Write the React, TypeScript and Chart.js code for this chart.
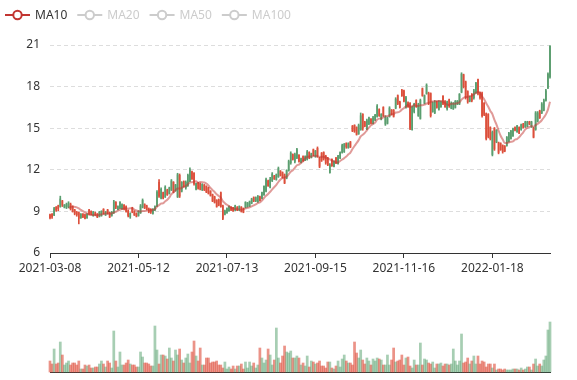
import { useEffect, useRef } from 'react';
import { Chart, registerables } from 'chart.js';

Chart.register(...registerables);

// ---------- data ----------
const TICK_DATES = ['2021-03-08', '2021-05-12', '2021-07-13', '2021-09-15', '2021-11-16', '2022-01-18'];
const TICK_INTERVAL = 43;

const OPEN = [
  8.75, 8.8, 8.75, 9.3, 9.4, 9.35, 9.75, 9.3, 9.3, 9.35,
  9.5, 9.35, 9.1, 8.95, 8.9, 8.55, 8.8, 8.75, 8.55, 9.1,
  9.0, 8.7, 8.9, 8.8, 8.65, 8.7, 9.15, 8.75, 9.1, 8.9,
  8.7, 8.9, 9.65, 9.15, 9.25, 9.2, 9.45, 9.35, 9.05, 8.6,
  9.25, 9.0, 8.85, 8.7, 8.9, 9.3, 9.5, 9.4, 9.2, 9.15,
  8.85, 9.1, 9.4, 11.1, 9.95, 10.35, 10.05, 10.55, 10.3, 10.55,
  11.1, 10.5, 10.05, 11.6, 10.45, 11.15, 10.7, 10.85, 11.2, 11.85,
  11.75, 10.6, 11.05, 11.0, 10.55, 10.9, 10.8, 10.7, 10.45, 10.2,
  10.05, 9.8, 9.85, 10.35, 9.4, 8.8, 8.9, 9.05, 9.3, 9.25,
  9.1, 9.3, 9.1, 9.3, 9.2, 9.3, 9.35, 9.4, 9.6, 10.0,
  9.75, 9.7, 10.05, 9.95, 10.2, 10.45, 11.2, 10.75, 11.2, 11.55,
  11.3, 11.5, 11.9, 11.8, 11.65, 11.4, 11.95, 12.5, 13.1, 12.6,
  12.85, 13.05, 12.55, 12.95, 12.7, 12.75, 13.25, 12.9, 13.45, 12.95,
  13.55, 12.85, 13.2, 13.25, 13.0, 12.85, 11.8, 12.75, 12.25, 12.85,
  12.45, 12.85, 13.25, 13.3, 13.9, 13.6, 14.0, 15.15, 15.2, 15.05,
  14.6, 14.9, 16.0, 15.45, 14.95, 15.3, 15.65, 15.35, 15.6, 15.85,
  16.35, 15.65, 16.5, 15.3, 15.35, 15.85, 16.3, 16.3, 16.45, 17.35,
  16.9, 17.75, 17.7, 16.5, 16.85, 16.8, 14.9, 16.2, 17.0, 15.9,
  15.7, 17.85, 16.8, 17.5, 17.5, 17.5, 16.2, 16.1, 16.9, 16.35,
  16.55, 17.3, 16.95, 16.4, 17.05, 16.45, 16.4, 16.5, 16.75, 16.75,
  17.6, 18.85, 18.35, 17.65, 16.95, 17.45, 17.2, 17.55, 18.5, 17.55,
  17.5, 16.8, 16.05, 16.0, 15.05, 13.1, 15.0, 14.0, 13.95, 13.9,
  13.75, 13.7, 13.75, 14.05, 14.25, 14.45, 15.05, 14.75, 15.05, 14.9,
  15.3, 15.1, 15.15, 15.45, 15.1, 15.0, 14.9, 15.5, 16.25, 16.1,
  16.3, 17.0, 17.9, 18.7,
];
const CLOSE = [
  8.55, 8.6, 9.2, 9.1, 9.2, 9.9, 9.45, 9.45, 9.5, 9.6,
  9.2, 9.0, 8.85, 8.75, 8.5, 8.8, 8.6, 8.5, 8.8, 8.85,
  8.8, 8.95, 8.75, 8.6, 8.95, 9.0, 8.85, 8.95, 8.85, 8.6,
  8.95, 9.7, 9.3, 9.35, 9.65, 9.5, 9.2, 9.0, 8.7, 8.85,
  8.95, 8.75, 8.65, 9.0, 9.4, 9.8, 9.25, 9.15, 8.95, 8.95,
  9.15, 9.35, 10.4, 10.1, 10.6, 9.95, 10.75, 10.2, 10.7, 11.2,
  10.4, 10.9, 11.65, 10.1, 11.1, 10.8, 11.1, 11.6, 12.0, 11.35,
  11.0, 11.0, 10.65, 10.6, 10.95, 10.55, 10.4, 10.3, 10.15, 9.75,
  9.65, 9.35, 9.45, 9.35, 8.5, 9.05, 9.2, 9.35, 9.1, 9.05,
  9.4, 9.1, 9.35, 9.0, 8.95, 9.65, 9.6, 9.7, 9.9, 9.75,
  10.0, 10.1, 9.8, 10.35, 10.8, 11.3, 10.85, 11.3, 11.7, 11.35,
  11.65, 12.1, 11.6, 11.45, 11.05, 11.95, 12.6, 13.2, 12.75, 13.1,
  13.45, 12.6, 12.8, 12.65, 12.95, 13.3, 12.85, 13.15, 13.1, 13.35,
  13.0, 12.25, 12.7, 12.8, 12.5, 12.35, 12.35, 12.3, 12.6, 12.5,
  13.0, 13.25, 13.75, 13.85, 13.65, 13.9, 13.65, 14.8, 14.8, 14.55,
  15.2, 15.9, 15.0, 15.15, 15.55, 15.75, 15.35, 15.75, 15.95, 16.6,
  15.9, 16.0, 15.9, 15.8, 15.7, 16.45, 16.0, 15.85, 17.1, 16.75,
  16.5, 17.35, 16.95, 17.2, 16.55, 15.0, 16.5, 16.75, 16.55, 16.7,
  17.0, 17.35, 17.35, 18.1, 16.8, 15.9, 16.85, 16.9, 16.5, 16.9,
  16.9, 16.75, 16.55, 16.9, 16.6, 16.8, 16.8, 16.95, 16.95, 17.45,
  18.9, 18.0, 17.2, 16.9, 17.25, 17.0, 17.7, 18.25, 17.5, 17.2,
  15.9, 16.0, 14.25, 14.4, 14.25, 14.7, 13.5, 14.85, 13.25, 13.45,
  13.3, 13.35, 14.35, 14.65, 14.8, 14.95, 14.85, 15.15, 14.65, 15.25,
  15.05, 15.45, 15.45, 15.3, 15.45, 14.35, 16.1, 16.1, 15.75, 16.75,
  17.0, 17.7, 18.9, 20.9,
];
const LOW = [
  8.45, 8.5, 8.7, 9.0, 9.05, 9.3, 9.35, 9.25, 9.2, 9.25,
  9.1, 8.95, 8.75, 8.65, 8.1, 8.5, 8.55, 8.45, 8.5, 8.75,
  8.75, 8.65, 8.7, 8.55, 8.6, 8.65, 8.8, 8.7, 8.8, 8.55,
  8.65, 8.85, 9.2, 9.1, 9.2, 9.15, 9.1, 8.95, 8.6, 8.5,
  8.9, 8.7, 8.6, 8.65, 8.85, 9.25, 9.2, 9.1, 8.9, 8.85,
  8.8, 9.05, 9.35, 10.0, 9.9, 9.9, 10.0, 10.15, 10.25, 10.5,
  10.35, 10.45, 10.0, 10.0, 10.4, 10.75, 10.6, 10.8, 11.15, 11.3,
  10.9, 10.55, 10.6, 10.55, 10.5, 10.5, 10.35, 10.25, 10.1, 9.7,
  9.6, 9.3, 9.4, 9.3, 8.4, 8.75, 8.85, 9.0, 9.05, 9.0,
  9.05, 9.05, 9.05, 8.95, 8.9, 9.25, 9.3, 9.35, 9.55, 9.7,
  9.7, 9.65, 9.75, 9.9, 10.15, 10.4, 10.8, 10.7, 11.15, 11.3,
  11.25, 11.45, 11.55, 11.4, 11.0, 11.35, 11.9, 12.4, 12.7, 12.5,
  12.8, 12.55, 12.5, 12.6, 12.65, 12.7, 12.8, 12.85, 13.0, 12.9,
  12.9, 12.15, 12.6, 12.7, 12.4, 12.3, 11.75, 12.25, 12.2, 12.45,
  12.4, 12.8, 13.2, 13.25, 13.55, 13.55, 13.6, 14.75, 14.7, 14.5,
  14.55, 14.85, 14.85, 15.1, 14.9, 15.25, 15.3, 15.3, 15.55, 15.8,
  15.85, 15.6, 15.85, 15.2, 15.3, 15.8, 15.95, 15.8, 16.4, 16.7,
  16.45, 17.3, 16.9, 16.45, 16.5, 14.9, 14.85, 16.1, 16.5, 15.85,
  15.65, 17.3, 16.75, 17.45, 16.7, 15.8, 16.15, 16.05, 16.45, 16.3,
  16.5, 16.7, 16.5, 16.3, 16.5, 16.4, 16.35, 16.45, 16.7, 16.7,
  17.55, 17.9, 17.1, 16.8, 16.9, 16.9, 17.1, 17.5, 17.4, 17.1,
  15.8, 15.9, 14.15, 14.3, 14.15, 13.0, 13.4, 13.95, 13.15, 13.4,
  13.2, 13.3, 13.7, 14.0, 14.2, 14.4, 14.8, 14.7, 14.6, 14.85,
  15.0, 15.05, 15.1, 15.25, 15.05, 14.3, 14.85, 15.45, 15.7, 16.05,
  16.25, 16.95, 17.85, 18.6,
];
const HIGH = [
  8.8, 8.85, 9.3, 9.35, 9.45, 10.1, 9.8, 9.5, 9.6, 9.7,
  9.6, 9.4, 9.15, 9.0, 8.95, 8.85, 8.85, 8.8, 8.85, 9.15,
  9.05, 9.0, 8.95, 8.85, 9.0, 9.05, 9.2, 9.0, 9.15, 8.95,
  9.0, 9.8, 9.7, 9.4, 9.7, 9.55, 9.5, 9.4, 9.1, 8.9,
  9.3, 9.05, 8.9, 9.05, 9.5, 9.9, 9.55, 9.45, 9.25, 9.2,
  9.2, 9.4, 10.5, 11.3, 10.7, 10.4, 10.85, 10.6, 10.75, 11.3,
  11.15, 10.95, 11.75, 11.7, 11.15, 11.2, 11.2, 11.7, 12.15, 11.9,
  11.8, 11.05, 11.1, 11.05, 11.0, 10.95, 10.85, 10.75, 10.5, 10.25,
  10.1, 9.85, 9.9, 10.4, 9.45, 9.1, 9.25, 9.4, 9.35, 9.3,
  9.45, 9.35, 9.4, 9.35, 9.25, 9.7, 9.65, 9.75, 9.95, 10.05,
  10.05, 10.15, 10.1, 10.4, 10.85, 11.4, 11.25, 11.45, 11.8, 11.6,
  11.7, 12.2, 11.95, 11.85, 11.7, 12.0, 12.7, 13.3, 13.15, 13.2,
  13.55, 13.1, 12.85, 13.0, 13.0, 13.4, 13.3, 13.2, 13.5, 13.4,
  13.65, 12.9, 13.25, 13.3, 13.05, 12.9, 12.45, 12.8, 12.65, 12.9,
  13.05, 13.3, 13.85, 13.9, 13.95, 13.95, 14.05, 15.2, 15.25, 15.1,
  15.3, 16.1, 16.05, 15.5, 15.65, 15.8, 15.7, 15.85, 16.0, 16.7,
  16.4, 16.05, 16.55, 15.9, 15.8, 16.55, 16.35, 16.35, 17.2, 17.4,
  16.95, 17.8, 17.75, 17.3, 16.9, 16.85, 16.6, 16.8, 17.05, 16.8,
  17.1, 17.9, 17.4, 18.2, 17.6, 17.55, 16.9, 17.0, 16.95, 17.0,
  16.95, 17.35, 17.0, 16.95, 17.1, 16.9, 16.85, 17.0, 17.0, 17.5,
  19.0, 18.9, 18.4, 17.7, 17.3, 17.5, 17.8, 18.3, 18.55, 17.6,
  17.6, 16.85, 16.1, 16.05, 15.1, 14.8, 15.05, 14.9, 14.0, 13.95,
  13.8, 13.75, 14.4, 14.7, 14.85, 15.0, 15.1, 15.2, 15.1, 15.3,
  15.35, 15.5, 15.5, 15.5, 15.5, 15.05, 16.2, 16.2, 16.3, 16.85,
  17.1, 17.8, 19.0, 20.95,
];
const VOLUME = [
  11, 8, 23, 8, 9, 30, 17, 7, 9, 11,
  7, 9, 9, 7, 11, 3, 3, 7, 6, 7,
  4, 4, 5, 5, 8, 11, 8, 5, 11, 9,
  4, 41, 11, 5, 20, 7, 7, 9, 12, 8,
  7, 7, 5, 5, 20, 15, 9, 9, 8, 6,
  6, 46, 22, 8, 17, 17, 16, 13, 24, 14,
  11, 22, 17, 23, 12, 9, 14, 18, 9, 20,
  31, 16, 11, 24, 7, 7, 14, 14, 9, 10,
  10, 11, 7, 7, 4, 10, 3, 5,
  3, 6, 3, 6, 6, 8, 3, 10,
  4, 10, 6, 9, 4, 7, 24, 14, 9, 12,
  23, 17, 7, 12, 44, 14, 9, 16, 26, 20,
  19, 21, 14, 14, 16, 14, 7, 9, 6, 16,
  5, 11, 10, 8, 9, 11, 6, 6, 4, 10,
  10, 4, 3, 6, 11, 5, 13, 17, 11, 9,
  9, 7, 30, 19, 14, 22, 12, 8, 14, 11,
  7, 13, 11, 14, 13, 12, 7, 7, 17, 7,
  12, 24, 10, 11, 12, 17, 7, 14, 15, 6,
  4, 12, 7, 7, 29, 7, 13, 12, 9, 8,
  10, 4, 8, 8, 9, 6, 8, 8, 7, 8,
  23, 11, 7, 11, 38, 9, 10, 14, 8, 11,
  16, 8, 16, 8, 11, 10, 5, 8, 8, 4,
  8, 2, 3, 3, 2, 3, 2, 2, 2, 3,
  3, 3, 2, 4, 2, 3, 5, 5, 2, 8,
  13, 6, 8, 6, 12, 16, 42, 50,
];
const MA_PERIODS = [10, 20, 50, 100];
const MA_SHOWN = [true, false, false, false];
const Y_MIN = 6;
const Y_MAX = 21;
const Y_STEP = 3;
const VOL_MAX = 60;

// ---------- styles ----------
const UP_COLOR = '#5a9e6f';
const DOWN_COLOR = '#dc4f3b';
const UP_VOL = 'rgba(79,158,104,0.5)';
const DOWN_VOL = 'rgba(221,75,57,0.6)';
const MA_COLORS = ['#c23531', '#2f4554', '#61a0a8', '#d48265'];
const FONT = '"Noto Sans", "DejaVu Sans", sans-serif';
const TEXT = '#333';
const AXIS = '#333';

function buildDates(): string[] {
  const out: string[] = [];
  TICK_DATES.forEach((d, k) => {
    const count = k < TICK_DATES.length - 1 ? TICK_INTERVAL : OPEN.length - out.length;
    const dt = new Date(d + 'T00:00:00Z');
    let n = 0;
    while (n < count) {
      const wd = dt.getUTCDay();
      if (wd !== 0 && wd !== 6) {
        out.push(dt.toISOString().slice(0, 10));
        n++;
      }
      dt.setUTCDate(dt.getUTCDate() + 1);
    }
  });
  return out;
}

function movingAverage(period: number): (number | null)[] {
  return CLOSE.map((_, i) => {
    if (i < period - 1) return null;
    let s = 0;
    for (let j = 0; j < period; j++) s += CLOSE[i - j];
    return +(s / period).toFixed(3);
  });
}

const legendPlugin = {
  id: 'maLegend',
  afterDraw(chart: any) {
    const ctx = chart.ctx as CanvasRenderingContext2D;
    ctx.save();
    ctx.font = `12px ${FONT}`;
    ctx.textBaseline = 'middle';
    ctx.textAlign = 'left';
    let x = 5;
    const y = 15;
    chart.data.datasets.forEach((ds: any, i: number) => {
      if (ds.type !== 'line') return;
      const on = chart.isDatasetVisible(i);
      const col = on ? ds.legendColor : '#ccc';
      ctx.strokeStyle = col;
      ctx.lineWidth = 2;
      ctx.beginPath();
      ctx.moveTo(x, y);
      ctx.lineTo(x + 25, y);
      ctx.stroke();
      ctx.beginPath();
      ctx.arc(x + 12.5, y, 4.2, 0, Math.PI * 2);
      ctx.fillStyle = '#fff';
      ctx.fill();
      ctx.stroke();
      ctx.fillStyle = on ? TEXT : '#ccc';
      ctx.fillText(ds.label, x + 30, y + 1);
      x += 30 + ctx.measureText(ds.label).width + 10;
    });
    ctx.restore();
  },
};

export default function App() {
  const mainRef = useRef<HTMLCanvasElement>(null);
  const volRef = useRef<HTMLCanvasElement>(null);

  useEffect(() => {
    const dates = buildDates();
    const isUp = CLOSE.map((c, i) => c > OPEN[i]);
    const candleColors = isUp.map((u) => (u ? UP_COLOR : DOWN_COLOR));
    const volColors = isUp.map((u) => (u ? UP_VOL : DOWN_VOL));

    const maSets = MA_PERIODS.map((p, k) => ({
      type: 'line' as const,
      label: 'MA' + p,
      data: movingAverage(p),
      legendColor: MA_COLORS[k],
      borderColor: k === 0 ? 'rgba(194,53,49,0.5)' : MA_COLORS[k],
      borderWidth: 2,
      pointRadius: 0,
      cubicInterpolationMode: 'monotone' as const,
      spanGaps: false,
      hidden: !MA_SHOWN[k],
      order: 0,
    }));

    const main = new Chart(mainRef.current!, {
      type: 'bar',
      data: {
        labels: dates,
        datasets: [
          ...maSets,
          {
            type: 'bar',
            label: 'wick',
            data: LOW.map((l, i) => [l, HIGH[i]]),
            backgroundColor: candleColors,
            barThickness: 1,
            grouped: false,
            clip: false,
            order: 2,
          },
          {
            type: 'bar',
            label: 'body',
            data: OPEN.map((o, i) => [o, CLOSE[i]]),
            backgroundColor: candleColors,
            barThickness: 1,
            grouped: false,
            clip: false,
            order: 1,
          },
        ] as any,
      },
      options: {
        animation: false,
        responsive: false,
        maintainAspectRatio: false,
        layout: { padding: { left: 0, right: 27, top: 45, bottom: 0 } },
        plugins: { legend: { display: false }, tooltip: { enabled: false } },
        scales: {
          x: {
            type: 'category',
            offset: false,
            grid: { display: true, offset: false, drawOnChartArea: false, drawTicks: true, tickLength: 5, color: AXIS },
            border: { display: true, color: AXIS },
            ticks: {
              autoSkip: false,
              maxRotation: 0,
              color: TEXT,
              padding: 3,
              font: { family: FONT, size: 12 },
              callback: (_v: any, i: number) => (i % TICK_INTERVAL === 0 ? dates[i] : null),
            },
            afterFit: (s: any) => {
              s.height = 32;
            },
          },
          y: {
            min: Y_MIN,
            max: Y_MAX,
            ticks: { stepSize: Y_STEP, color: TEXT, padding: 10, font: { family: FONT, size: 12 } },
            grid: { color: '#ddd', drawTicks: false },
            border: { display: false, dash: [4, 3] },
            afterFit: (s: any) => {
              s.width = 50;
            },
          },
        },
      } as any,
      plugins: [legendPlugin],
    });

    const vol = new Chart(volRef.current!, {
      type: 'bar',
      data: {
        labels: dates,
        datasets: [
          {
            label: 'Volume',
            data: VOLUME,
            backgroundColor: volColors,
            barPercentage: 1,
            categoryPercentage: 1,
            clip: false,
          } as any,
        ],
      },
      options: {
        animation: false,
        responsive: false,
        maintainAspectRatio: false,
        layout: { padding: { left: 50, right: 27, top: 12, bottom: 8 } },
        plugins: { legend: { display: false }, tooltip: { enabled: false } },
        scales: {
          x: {
            offset: false,
            grid: { display: false, offset: false },
            ticks: { display: false },
            border: { display: true, color: AXIS },
            afterFit: (s: any) => {
              s.height = 0;
            },
          },
          y: { display: false, min: 0, max: VOL_MAX },
        },
      } as any,
    });

    return () => {
      main.destroy();
      vol.destroy();
    };
  }, []);

  return (
    <div style={{ position: 'fixed', left: 0, top: 0, width: 577, height: 380, background: '#fff' }}>
      <canvas ref={mainRef} width={577} height={285} style={{ position: 'absolute', left: 0, top: 0 }} />
      <canvas ref={volRef} width={577} height={80} style={{ position: 'absolute', left: 0, top: 300 }} />
    </div>
  );
}
